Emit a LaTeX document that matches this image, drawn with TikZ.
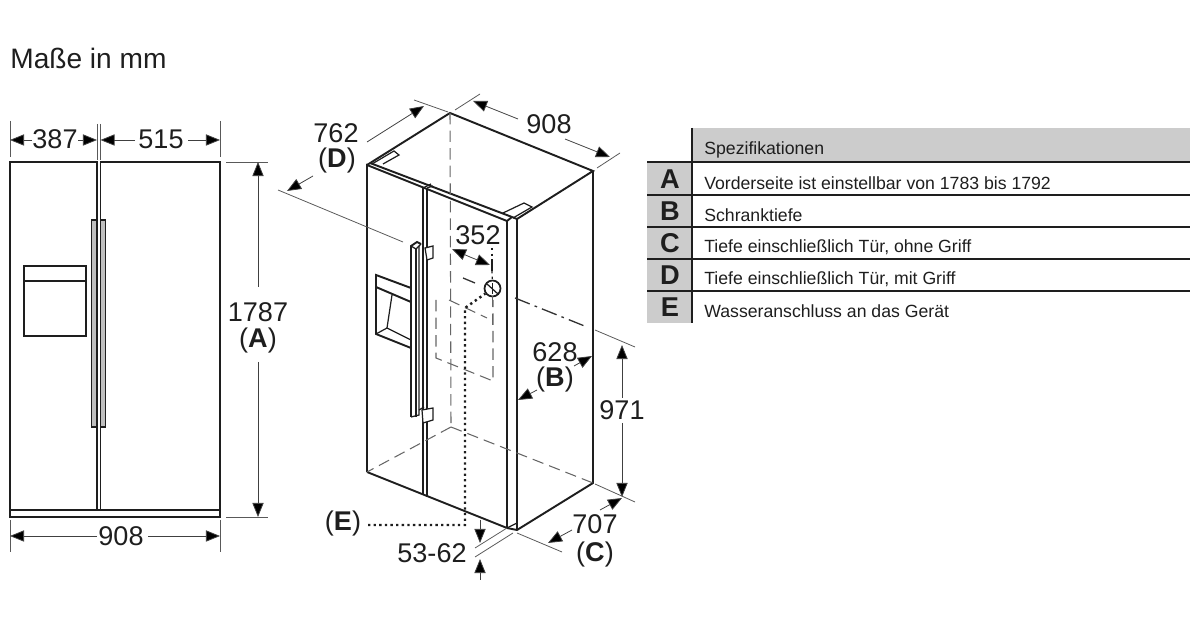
\documentclass[tikz,border=0pt]{standalone}
\usepackage{fontspec}
\setmainfont{Liberation Sans}
\usetikzlibrary{arrows.meta}
\definecolor{tablegray}{HTML}{CCCCCC}
\definecolor{inkgray}{HTML}{1E1E1E}
\tikzset{
  outline/.style={line width=1.1pt,draw=inkgray},
  thinline/.style={line width=0.7pt,draw=inkgray},
  extline/.style={line width=0.45pt,draw=black!65},
  dimline/.style={line width=0.45pt,draw=black!75,-{Triangle[length=8pt,width=6.4pt,fill=black]}},
  hidden/.style={line width=0.6pt,draw=black!60,dash pattern=on 6.5pt off 3.5pt},
  waterline/.style={line width=1.4pt,draw=inkgray,dash pattern=on 1.3pt off 1.9pt},
  axisline/.style={line width=0.75pt,draw=black!80,dash pattern=on 9pt off 3pt on 1.5pt off 3pt},
  dimtext/.style={font=\fontsize{15.4}{18}\selectfont,text=inkgray,inner sep=0pt},
  rowlabel/.style={font=\fontsize{15.5}{18}\selectfont\bfseries,text=inkgray,inner sep=0pt},
  rowtext/.style={font=\fontsize{10.05}{12}\selectfont,text=inkgray,anchor=west,inner sep=0pt}
}
\begin{document}
\begin{tikzpicture}[x=0.02cm,y=-0.02cm]
\useasboundingbox (0,0) rectangle (1200,617);
\node [dimtext,font=\fontsize{16}{18}\selectfont,anchor=west] (title) at (10,58) {Maße in mm};
% front view
\draw[outline] (10,162) rectangle (97,510);
\draw[outline] (100.5,162) rectangle (220,510);
\draw[outline] (10,510) rectangle (220,517);
\draw[thinline,fill=black!25] (91.5,220) rectangle (97,427);
\draw[thinline,fill=black!25] (100.5,220) rectangle (105.5,427);
\draw[outline] (24,266) rectangle (86,336);
\draw[outline] (24,281)--(86,281);
% front view dimensions
\foreach \xa/\ya/\xb/\yb in {10/121/10/157, 97/124/97/160, 100.5/124/100.5/160, 220/121/220/157, 226/162/268/162, 226/517/268/517, 10/520/10/552, 220/520/220/552}
  \draw[extline] (\xa,\ya)--(\xb,\yb);
\node [dimtext] (w387) at (55,139) {387};
\node [dimtext] (w515) at (161,139) {515};
\node [dimtext] (w908) at (121,536) {908};
\node [dimtext] (h1787) at (258,312) {1787};
\node [dimtext] (hA) at (258,341) {(\textbf{A})};
\draw[dimline] (32,140)--(10,140);
\draw[dimline] (78,140)--(97,140);
\draw[dimline] (135,140)--(100.5,140);
\draw[dimline] (188,140)--(220,140);
\draw[dimline] (97,536)--(10,536);
\draw[dimline] (148,536)--(220,536);
\draw[dimline] (258,287)--(258,162);
\draw[dimline] (258,362)--(258,517);
% cabinet
\draw[outline] (367,165)--(450,113)--(593,171)--(517,219);
\draw[outline] (367,472)--(367,165)--(507,221)--(507,528);
\draw[outline] (370,163)--(512,217)--(517,219)--(517,530);
\draw[outline] (507,221)--(512,217);
\draw[outline] (593,171)--(593,483)--(517,530)--(507,528)--(367,472);
\draw[thinline] (507,528)--(517,523);
\draw[outline] (423,188)--(423,495);
\draw[outline] (427,188)--(427,497);
\draw[thinline] (423,188)--(431,184);
\draw[thinline] (427,188)--(433,186);
\draw[thinline] (372,164)--(394,151)--(399,155)--(383,164);
\draw[thinline] (503,213)--(524,203)--(532,207)--(513,218);
% handle
\draw[outline] (411,417)--(411,246)--(417,242)--(421,244);
\draw[thinline] (411,246)--(416,249)--(421,244);
\draw[thinline] (416,249)--(416,417);
\draw[thinline] (419,246)--(419,415)--(411,417);
\draw[thinline,fill=white] (425,248)--(433,246)--(433,258)--(427,260)--cycle;
\draw[thinline,fill=white] (422,410)--(433,408)--(433,420)--(423,423)--cycle;
\draw[thinline] (419,410)--(424,407);
% dispenser
\draw[outline] (411,288)--(376,275)--(376,334)--(411,348);
\draw[outline] (376,287)--(411,302);
\draw[thinline] (392,295)--(387,328)--(376,334);
\draw[thinline] (387,328)--(411,340);
% hidden edges
\draw[hidden] (450,113)--(451,427);
\draw[hidden] (451,427)--(367,472);
\draw[hidden] (451,427)--(593,483);
\draw[hidden] (436,300)--(436,358)--(493,381)--(493,300);
\draw[hidden] (449,300)--(487,318);
% water connection
\coordinate (tapE) at (465,525);
\coordinate (tapbend) at (465,308);
\node [draw=inkgray,line width=1pt,circle,minimum size=0.32cm,inner sep=0pt] (tap) at (492.5,288.5) {};
\draw[thinline] (487,284)--(498,294);
\draw[thinline] (492.5,283)--(492.5,294);
\draw[waterline] (368,525)--(tapE)--(tapbend)--(tap);
\draw[axisline] (463,278)--(475,283);
\draw[axisline] (515,298)--(587,327);
\draw[hidden] (492.5,296)--(492.5,330);
\draw[thinline] (492,260)--(492,271);
\draw[waterline,line width=0.7pt] (492,248)--(492,260);
\draw[waterline,line width=0.7pt] (492,271)--(tap);
% dimensions of the cabinet
\foreach \xa/\ya/\xb/\yb in {455/110/480/94, 597/168/620/153, 414/100/448/112, 278/190/403/242, 595/330/635/347, 595/484/635/502, 517/533/562/552, 475/548/507/528, 475/557/513/533}
  \draw[extline] (\xa,\ya)--(\xb,\yb);
\node [dimtext] (d908) at (549,124) {908};
\node [dimtext] (d762) at (336,133) {762};
\node [dimtext] (dD) at (337,161) {(\textbf{D})};
\node [dimtext] (d352) at (478,235) {352};
\node [dimtext] (d628) at (555,352) {628};
\node [dimtext] (dB) at (555,380) {(\textbf{B})};
\node [dimtext] (d971) at (622,410) {971};
\node [dimtext] (d707) at (595,524) {707};
\node [dimtext] (dC) at (595,554) {(\textbf{C})};
\node [dimtext] (d5362) at (432,553) {53-62};
\node [dimtext] (dE) at (343,524) {(\textbf{E})};
\draw[dimline] (518,119)--(473,101);
\draw[dimline] (565,139)--(610,157);
\draw[dimline] (367,142)--(424,106);
\draw[dimline] (313,176)--(287,191);
\draw[dimline] (470,257)--(452,249);
\draw[dimline] (470,257)--(490,265);
\draw[dimline] (574,366)--(592,356);
\draw[dimline] (537,390)--(518,400);
\draw[dimline] (622,398)--(622,345);
\draw[dimline] (622,423)--(622,497);
\draw[dimline] (600,510)--(622,498);
\draw[dimline] (572,530)--(548,543);
\draw[dimline] (480,520)--(480,543);
\draw[dimline] (480,580)--(480,559);
% table
\fill[tablegray] (692,128) rectangle (1190,162);
\fill[tablegray] (647,162) rectangle (692,323);
\draw[outline] (692,128)--(692,323);
\foreach \rowy in {162,195,227,259,291}
  \draw[outline] (647,\rowy)--(1190,\rowy);
\node [rowtext] (head) at (704,149.5) {Spezifikationen};
\foreach \rowname/\rowy/\rowdesc in {A/179.5/Vorderseite ist einstellbar von 1783 bis 1792, B/211.5/Schranktiefe, C/243.5/{Tiefe einschließlich Tür, ohne Griff}, D/275.5/{Tiefe einschließlich Tür, mit Griff}, E/307.5/Wasseranschluss an das Gerät}{
  \node [rowlabel] (label\rowname) at (670,\rowy) {\rowname};
  \node [rowtext] (row\rowname) at (704,\rowy+4) {\rowdesc};
}
\end{tikzpicture}
\end{document}
